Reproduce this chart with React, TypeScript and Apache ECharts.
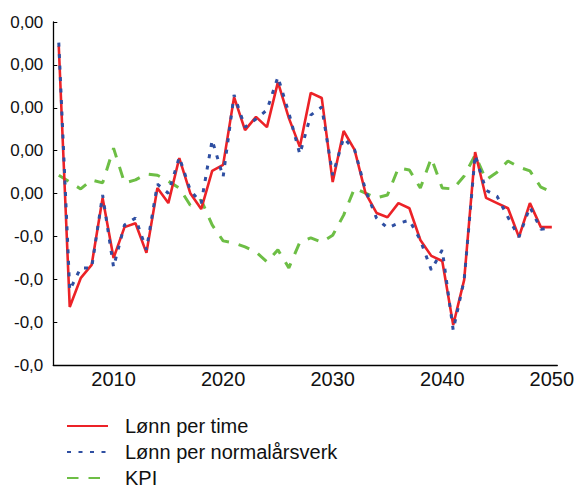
import React, { useEffect, useRef } from "react";
import * as echarts from "echarts";

const years = [
  "2005", "2006", "2007", "2008", "2009", "2010", "2011", "2012", "2013", "2014",
  "2015", "2016", "2017", "2018", "2019", "2020", "2021", "2022", "2023", "2024",
  "2025", "2026", "2027", "2028", "2029", "2030", "2031", "2032", "2033", "2034",
  "2035", "2036", "2037", "2038", "2039", "2040", "2041", "2042", "2043", "2044",
  "2045", "2046", "2047", "2048", "2049", "2050",
];

const lonnPerTime = [
  3.44, -2.64, -1.97, -1.66, -0.1, -1.5, -0.78, -0.69, -1.38, 0.13,
  -0.22, 0.83, 0.01, -0.36, 0.53, 0.67, 2.25, 1.48, 1.79, 1.55,
  2.6, 1.76, 1.09, 2.35, 2.23, 0.27, 1.46, 1.02, 0.01, -0.45,
  -0.55, -0.22, -0.34, -1.08, -1.45, -1.57, -3.06, -2.01, 0.97, -0.1,
  -0.22, -0.34, -1.01, -0.22, -0.78, -0.78,
];

const lonnPerNormalarsverk = [
  3.52, -2.25, -1.73, -1.73, -0.03, -1.71, -0.73, -0.57, -1.31, 0.22,
  0.01, 0.85, 0.08, -0.22, 1.25, 0.39, 2.3, 1.55, 1.74, 1.95,
  2.72, 1.88, 0.92, 1.83, 2.02, 0.43, 1.3, 1.02, 0.08, -0.57,
  -0.8, -0.69, -0.62, -1.08, -1.78, -1.31, -3.18, -2.01, 0.9, 0.08,
  -0.06, -0.55, -1.01, -0.31, -0.83, -0.8,
];

const kpi = [
  0.43, 0.27, 0.11, 0.32, 0.25, 1.06, 0.25, 0.32, 0.46, 0.43,
  0.29, 0.13, -0.27, -0.15, -0.73, -1.1, -1.15, -1.24, -1.36, -1.59,
  -1.31, -1.73, -1.13, -1.03, -1.13, -0.97, -0.5, 0.13, 0.01, -0.1,
  -0.03, 0.6, 0.55, 0.13, 0.83, 0.13, 0.11, 0.41, 0.9, 0.32,
  0.5, 0.76, 0.62, 0.53, 0.15, 0.04,
];

// y tick labels from bottom (-4) to top (4)
const yTickLabels = ["-0,0", "-0,0", "-0,0", "-0,0", "0,00", "0,00", "0,00", "0,00", "0,00"];

const seriesNames = ["Lønn per time", "Lønn per normalårsverk", "KPI"];

const FONT = "'Liberation Sans', Arial, sans-serif";

export default function App() {
  const ref = useRef<HTMLDivElement>(null);
  useEffect(() => {
    if (!ref.current) return;
    const chart = echarts.init(ref.current, null, { renderer: "svg" });
    chart.setOption({
      animation: false,
      backgroundColor: "#ffffff",
      grid: { left: 53.3, right: 24.7, top: 22, bottom: 122.7, containLabel: false },
      legend: {
        orient: "vertical",
        left: 66,
        top: 416,
        height: 200,
        padding: 0,
        itemWidth: 41,
        itemHeight: 14,
        itemGap: 6,
        data: seriesNames,
        itemStyle: { opacity: 0 },
        textStyle: {
          fontSize: 20,
          color: "#111",
          fontFamily: FONT,
          padding: [0, 0, 0, 12],
        },
      },
      xAxis: {
        type: "category",
        data: years,
        boundaryGap: true,
        axisLine: { onZero: false, lineStyle: { color: "#000", width: 1.3 } },
        axisTick: { inside: true, length: 4, interval: 1, lineStyle: { color: "#000", width: 1 } },
        axisLabel: {
          interval: (_i: number, v: string) => Number(v) % 10 === 0,
          fontSize: 20,
          color: "#111",
          fontFamily: FONT,
          margin: 4,
        },
        splitLine: { show: false },
      },
      yAxis: {
        type: "value",
        min: -4,
        max: 4,
        interval: 1,
        axisLine: { show: true, onZero: false, lineStyle: { color: "#000", width: 1.3 } },
        axisTick: { show: true, inside: true, length: 4, lineStyle: { color: "#000", width: 1 } },
        axisLabel: {
          fontSize: 17,
          color: "#111",
          fontFamily: FONT,
          margin: 10,
          formatter: (v: number) => yTickLabels[Math.round(v) + 4],
        },
        splitLine: { show: false },
      },
      series: [
        {
          name: seriesNames[0],
          type: "line",
          data: lonnPerTime,
          symbol: "none",
          z: 3,
          lineStyle: { color: "#EC2227", width: 2.6 },
          itemStyle: { color: "#EC2227" },
        },
        {
          name: seriesNames[1],
          type: "line",
          data: lonnPerNormalarsverk,
          symbol: "none",
          z: 4,
          lineStyle: { color: "#2F4FA2", width: 3, type: [4, 7.5] },
          itemStyle: { color: "#2F4FA2" },
        },
        {
          name: seriesNames[2],
          type: "line",
          data: kpi,
          symbol: "none",
          z: 2,
          lineStyle: { color: "#6DBE45", width: 3, type: [11.5, 10] },
          itemStyle: { color: "#6DBE45" },
        },
      ],
    });
    return () => chart.dispose();
  }, []);
  return <div ref={ref} style={{ position: "fixed", left: 0, top: 0, width: 582, height: 488 }} />;
}
